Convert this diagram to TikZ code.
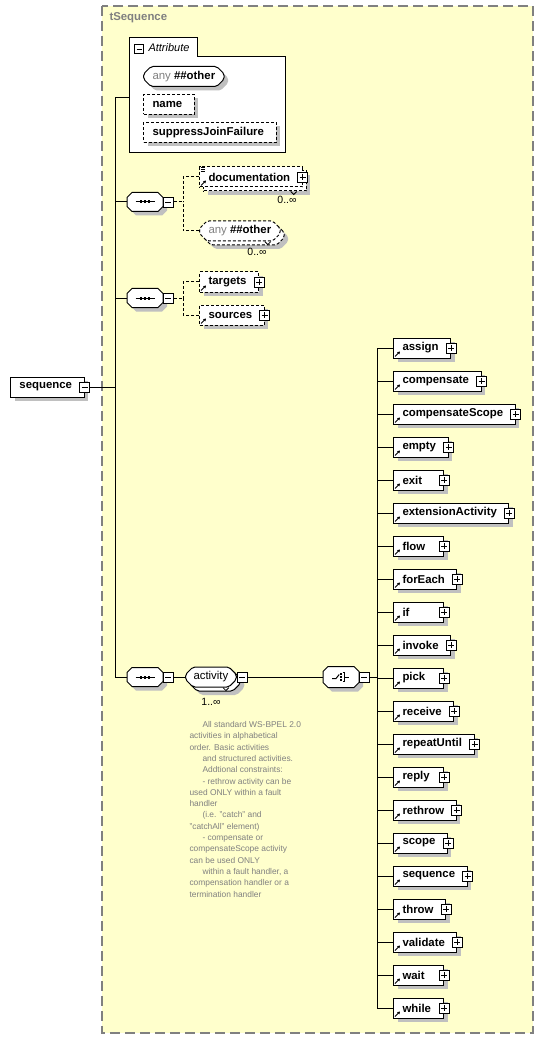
\documentclass[tikz,border=0pt]{standalone}
\usepackage{fontspec}
\setmainfont{Liberation Sans}
\usetikzlibrary{shapes.misc,shadows,arrows.meta}
\definecolor{bgyellow}{RGB}{255,255,204}
\definecolor{shgray}{RGB}{192,192,192}
\definecolor{txtgray}{RGB}{128,128,128}
\definecolor{bordergray}{RGB}{128,128,128}
\newlength\eltw
\newcommand\elt[1]{\settowidth\eltw{#1}\ifdim\eltw<29pt\eltw=29pt\fi\hspace*{9pt}\makebox[\eltw][l]{#1}\hspace*{12pt}}
\newcommand\refarrow[1]{\draw[line width=0.9pt,-{Triangle[length=2.6pt,width=3pt]}] ([shift={(2pt,2pt)}]#1.south west) -- ++(5pt,5pt);}
\newcommand\octo[2]{%
  \draw[fill=white,shad] ([xshift=#2]#1.north west) -- ([xshift=-#2]#1.north east) -- ([yshift=-#2]#1.north east) -- ([yshift=#2]#1.south east) -- ([xshift=-#2]#1.south east) -- ([xshift=#2]#1.south west) -- ([yshift=#2]#1.south west) -- ([yshift=-#2]#1.north west) -- cycle;}
\newcommand\seqsym[1]{%
  \draw[line width=1pt] ([xshift=-9.5pt]#1.center) -- ([xshift=9.5pt]#1.center);
  \foreach \dx in {-4,0,4}{\fill ([xshift=\dx pt]#1.center) +(-1.3pt,-1.5pt) rectangle +(1.3pt,1.5pt);}}
\newcommand\choicesym[1]{%
  \draw[line width=1pt] ([shift={(-9pt,-1.5pt)}]#1.center) -- ([shift={(-5pt,-1.5pt)}]#1.center) -- ([shift={(-1.8pt,2.5pt)}]#1.center);
  \foreach \dy in {-3.2,0,3.2}{\fill ([shift={(0pt,\dy pt)}]#1.center) +(-1pt,-1pt) rectangle +(1pt,1pt);}
  \draw[line width=1pt] ([shift={(1.6pt,4.5pt)}]#1.center) -- ([shift={(3.6pt,4.5pt)}]#1.center) -- ([shift={(3.6pt,-4.5pt)}]#1.center) -- ([shift={(1.6pt,-4.5pt)}]#1.center);
  \draw[line width=1pt] ([shift={(3.6pt,0pt)}]#1.center) -- ([shift={(8pt,0pt)}]#1.center);}
\tikzset{
  shad/.style={drop shadow={shadow xshift=4pt,shadow yshift=-4pt,fill=shgray,opacity=1}},
  dsh/.style={dash pattern=on 3pt off 2pt},
  boxbase/.style={draw,fill=white,minimum height=20pt,inner xsep=0pt,inner ysep=0pt,anchor=west,font=\fontsize{11.4}{13}\selectfont\bfseries},
  elem/.style={boxbase,shad},
  optelem/.style={boxbase,shad,dsh},
  pmbox/.style={draw,fill=white,minimum size=10pt,inner sep=0pt,line width=0.9pt},
  plusbox/.style={pmbox,path picture={\draw[line width=0.9pt] ([xshift=2pt]path picture bounding box.west) -- ([xshift=-2pt]path picture bounding box.east) ([yshift=-2pt]path picture bounding box.north) -- ([yshift=2pt]path picture bounding box.south);}},
  minusbox/.style={pmbox,path picture={\draw[line width=0.9pt] ([xshift=2pt]path picture bounding box.west) -- ([xshift=-2pt]path picture bounding box.east);}},
  comp/.style={minimum width=35pt,minimum height=18pt,inner sep=0pt,anchor=west},
  grp/.style={chamfered rectangle,chamfered rectangle xsep=4pt,rounded corners=2pt,draw,fill=white,minimum height=20pt,inner xsep=4pt,inner ysep=0pt,anchor=west,font=\fontsize{11.4}{13}\selectfont},
  mult/.style={font=\fontsize{10.5}{12}\selectfont,inner sep=0pt},
}
\begin{document}
\begin{tikzpicture}[x=1pt,y=-1pt,line width=1pt]
\useasboundingbox (0,0) rectangle (544,1040);
\filldraw[fill=bgyellow,draw=bordergray,line width=1.3pt,dash pattern=on 10pt off 5pt] (102,6) rectangle (533,1033);
\node[anchor=west,font=\fontsize{11.4}{13}\selectfont\bfseries,text=txtgray,inner sep=0pt] (title) at (109,18) {tSequence};

% attribute box
\node[minimum width=156pt,minimum height=118pt,anchor=north west,inner sep=0pt] (attr) at (129,38) {};
\draw[fill=white] (129,153) -- (129,38) -- (197,38) -- (197,57) -- (285,57) -- (285,153) -- cycle;
\node[minusbox,minimum size=9pt] (attr-m) at (139,49) {};
\node[anchor=west,font=\fontsize{11}{13}\selectfont\itshape,inner sep=0pt] (attr-l) at (148,48) {Attribute};
\node[grp,shad,inner xsep=5pt] (att-any) at (143,76.5) {\textcolor{txtgray}{any} \textbf{\#\#other}};
\node[optelem] (att-name) at (143,104.5) {\elt{name}};
\node[optelem] (att-sjf) at (143,132.5) {\elt{suppressJoinFailure}};

% root element
\node[elem] (seq) at (10,387) {\elt{sequence}};
\node[minusbox] (seq-m) at (seq.east) {};

% compositors
\node[comp] (c1) at (127,202) {}; \octo{c1}{5pt} \seqsym{c1}
\node[minusbox,anchor=west] (c1-m) at (c1.east) {};
\node[comp] (c2) at (127,298) {}; \octo{c2}{5pt} \seqsym{c2}
\node[minusbox,anchor=west] (c2-m) at (c2.east) {};
\node[comp] (c3) at (127,677) {}; \octo{c3}{5pt} \seqsym{c3}
\node[minusbox,anchor=west] (c3-m) at (c3.east) {};

% documentation
\node[boxbase,dsh,shad] (doc-bk) at (203,181) {\elt{\phantom{documentation}}};
\node[boxbase,dsh] (doc) at (199,177) {\elt{documentation}};
\node[plusbox] (doc-p) at (doc.east) {};
\refarrow{doc}
\draw[line width=0.8pt] ([xshift=-16pt]doc-bk.south east) -- ++(3pt,-3pt) -- ++(3pt,3pt);
\foreach \k in {0,2,4}{\draw[line width=0.7pt] ([shift={(1.5pt,{-1pt-\k pt})}]doc.north west) -- ++(4pt,0pt);}
\node[mult] (doc-mult) at (287,200) {0..∞};

% any ##other (element wildcard)
\node[grp,dsh,shad,inner xsep=5pt] (dany-bk) at (203,235) {\phantom{any \textbf{\#\#other}}};
\node[grp,dsh,inner xsep=5pt] (dany) at (199,231) {\textcolor{txtgray}{any} \textbf{\#\#other}};
\draw[line width=0.8pt] ([xshift=-16pt]dany-bk.south east) -- ++(3pt,-3pt) -- ++(3pt,3pt);
\node[mult] (dany-mult) at (257,252) {0..∞};

% targets / sources
\node[optelem] (tgt) at (199,282) {\elt{targets}};
\node[plusbox] (tgt-p) at (tgt.east) {};
\refarrow{tgt}
\node[optelem] (src) at (199,315) {\elt{sources}};
\node[plusbox] (src-p) at (src.east) {};
\refarrow{src}

% activity group
\node[grp,shad] (act-bk) at (189,681) {\phantom{activity}};
\node[grp] (act) at (185,677) {activity};
\node[minusbox,anchor=west] (act-m) at (act.east) {};
\draw[line width=0.8pt] ([xshift=-14pt]act-bk.south east) -- ++(3pt,-3pt) -- ++(3pt,3pt);
\node[mult] (act-mult) at (211,702) {1..∞};

% choice
\node[comp,minimum height=20pt] (ch) at (323,677) {}; \octo{ch}{5pt} \choicesym{ch}
\node[minusbox,anchor=west] (ch-m) at (ch.east) {};

% annotation
\node[anchor=north west,align=left,font=\fontsize{8.4}{11.3}\selectfont,text=txtgray,inner sep=0pt] (note) at (189,721) {%
\hspace*{13pt}All standard WS-BPEL 2.0\\
activities in alphabetical\\
order. Basic activities\\
\hspace*{13pt}and structured activities.\\
\hspace*{13pt}Addtional constraints:\\
\hspace*{13pt}- rethrow activity can be\\
used ONLY within a fault\\
handler\\
\hspace*{13pt}(i.e. "catch" and\\
"catchAll" element)\\
\hspace*{13pt}- compensate or\\
compensateScope activity\\
can be used ONLY\\
\hspace*{13pt}within a fault handler, a\\
compensation handler or a\\
termination handler};

% connectors
\coordinate (trunk) at (115,387);
\draw (seq-m.east) -- (trunk);
\draw (attr.west) -| (trunk);
\draw (c1.west) -| (trunk);
\draw (c2.west) -| (trunk);
\draw (c3.west) -| (trunk);
\coordinate (b1) at (183,202);
\draw[dsh] (c1-m.east) -- (b1);
\draw[dsh] (doc.west) -| (b1);
\draw[dsh] (dany.west) -| (b1);
\coordinate (b2) at (183,298);
\draw[dsh] (c2-m.east) -- (b2);
\draw[dsh] (tgt.west) -| (b2);
\draw[dsh] (src.west) -| (b2);
\draw (c3-m.east) -- (act.west);
\draw (act-m.east) -- (ch.west);
\coordinate (b3) at (377,677);
\draw (ch-m.east) -- (b3);

% choice members
\foreach \n [count=\i from 0] in {assign,compensate,compensateScope,empty,exit,extensionActivity,flow,forEach,if,invoke,pick,receive,repeatUntil,reply,rethrow,scope,sequence,throw,validate,wait,while}{
  \node[elem] (e-\n) at (393,{348+33*\i}) {\elt{\n}};
  \node[plusbox] (e-\n-p) at (e-\n.east) {};
  \refarrow{e-\n}
  \draw (e-\n.west) -| (b3);
}
\end{tikzpicture}
\end{document}
